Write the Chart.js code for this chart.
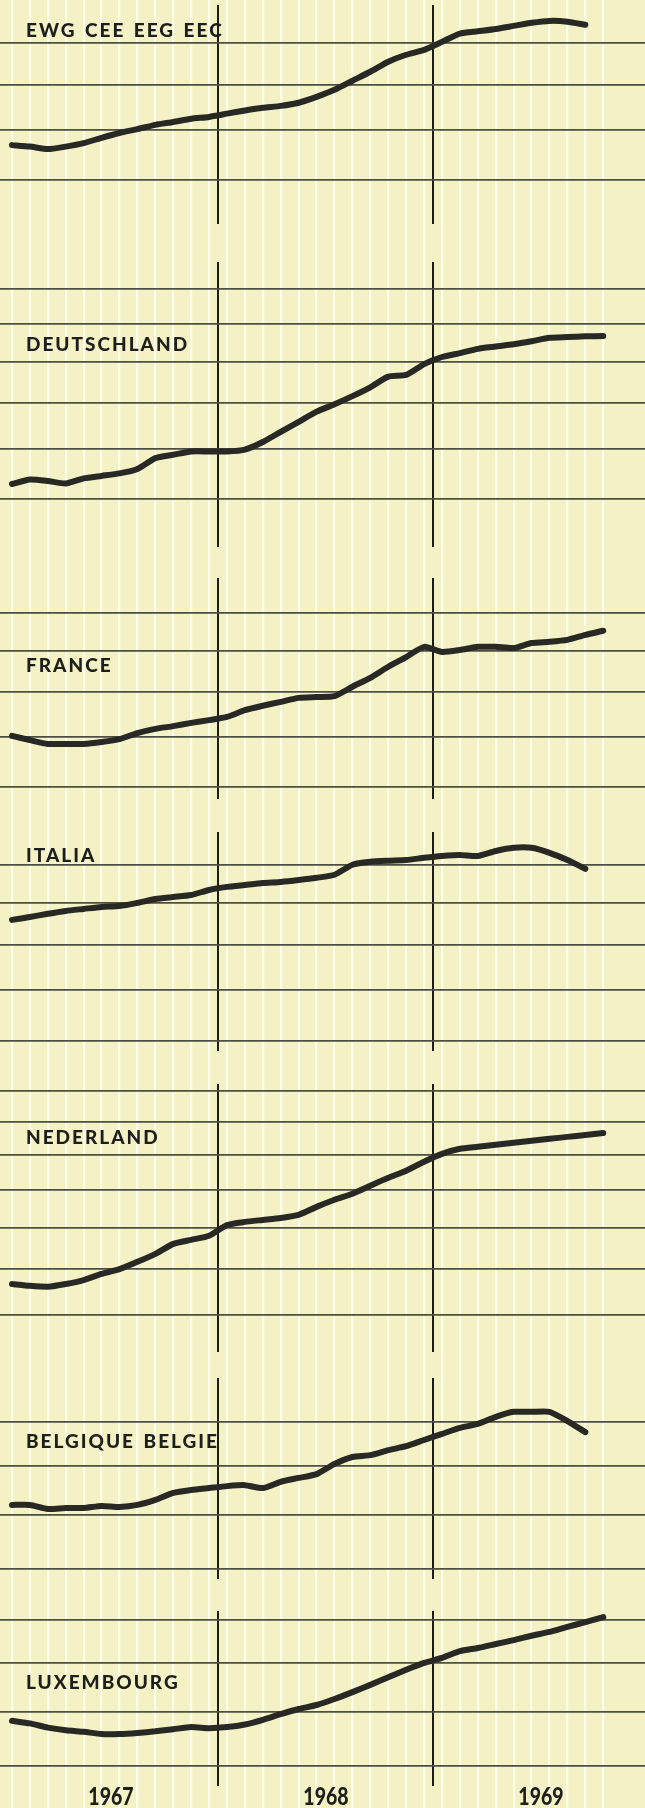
<!DOCTYPE html>
<html><head><meta charset="utf-8">
<script src="https://cdn.jsdelivr.net/npm/chart.js@4.4.1/dist/chart.umd.min.js"></script>
<style>
html,body{margin:0;padding:0;}
body{width:645px;height:1808px;background:#f4f2c5;position:relative;overflow:hidden;}
canvas{position:absolute;left:0;}
.title{position:absolute;left:26px;font-family:Lato,"Open Sans",sans-serif;font-weight:900;font-size:19px;letter-spacing:2px;word-spacing:2px;color:#1e1e1b;line-height:19px;white-space:nowrap;}
.year{position:absolute;font-family:Lato,sans-serif;font-weight:900;font-size:25px;line-height:25px;color:#1e1e1b;white-space:nowrap;transform:translateX(-50%) scaleX(0.78);}
</style></head><body>
<script>
// ---- data ----
const months = ["1967-01","1967-02","1967-03","1967-04","1967-05","1967-06","1967-07","1967-08","1967-09","1967-10","1967-11","1967-12",
"1968-01","1968-02","1968-03","1968-04","1968-05","1968-06","1968-07","1968-08","1968-09","1968-10","1968-11","1968-12",
"1969-01","1969-02","1969-03","1969-04","1969-05","1969-06","1969-07","1969-08","1969-09","1969-10"];
const yearLabels = ["1967","1968","1969"];
const panelNames = ["EWG CEE EEG EEC","DEUTSCHLAND","FRANCE","ITALIA","NEDERLAND","BELGIQUE BELGIE","LUXEMBOURG"];

const ewg = [96.9,96.6,96.1,96.6,97.3,98.4,99.4,100.2,101.1,101.7,102.4,102.8,103.5,104.2,104.8,105.2,105.9,107.2,108.8,110.9,113.0,115.4,117.1,118.3,120.3,122.4,123.0,123.6,124.4,125.2,125.7,125.5,124.7];
const deutschland = [92.8,93.7,93.4,92.9,93.9,94.4,94.9,95.8,98.0,98.7,99.4,99.4,99.4,99.8,101.4,103.6,105.8,108.1,109.8,111.7,113.8,116.4,116.8,119.5,121.3,122.3,123.4,124.0,124.6,125.4,126.3,126.5,126.7,126.8];
const france = [100.2,99.3,98.5,98.5,98.5,98.9,99.5,100.8,101.7,102.3,103.0,103.6,104.3,105.8,106.8,107.7,108.6,108.8,109.0,111.2,113.3,116.0,118.4,121.0,119.7,120.2,121.0,121.0,120.7,122.0,122.3,122.8,124.1,125.2];
const italia = [115.9,116.6,117.4,118.1,118.6,119.1,119.3,120.1,121.1,121.6,122.1,123.4,124.2,124.7,125.2,125.5,126.0,126.6,127.4,130.1,130.9,131.2,131.4,132.0,132.5,132.8,132.5,133.9,134.8,134.8,133.4,131.4,129.0];
const nederland = [106.6,106.2,106.0,106.6,107.5,108.9,110.0,111.7,113.6,116.0,117.0,118.0,120.7,121.5,122.0,122.5,123.3,125.4,127.3,128.9,131.1,133.3,135.3,137.9,140.2,141.7,142.3,142.9,143.5,144.1,144.7,145.3,145.9,146.5];
const belgique = [91.9,91.9,91.1,91.3,91.3,91.7,91.5,91.9,92.9,94.3,94.9,95.3,95.7,95.9,95.3,96.6,97.4,98.2,100.4,101.9,102.3,103.4,104.3,105.7,107.1,108.5,109.4,111.1,112.3,112.3,112.3,110.1,107.5];
const luxembourg = [88.2,87.7,86.9,86.4,86.1,85.7,85.7,85.9,86.2,86.6,87.0,86.8,87.0,87.5,88.4,89.5,90.5,91.3,92.5,93.9,95.4,97.0,98.6,100.1,101.2,102.7,103.4,104.3,105.2,106.2,107.1,108.3,109.4,110.6];

const gridEWG = [90,100,110,120];
const gridDE = [90,100,110,120,130,140];
const gridFR = [90,100,110,120,130];
const gridIT = [90,100,110,120,130];
const gridNL = [100,110,120,130,140,150,160];
const gridBE = [80,90,100,110];
const gridLU = [80,90,100,110];

// axis bounds (log scale)
const yMin = [82.14, 81.26, 87.66, 88.04, 92.40, 78.35, 76.5];
const yMax = [129.96, 148.2, 140.0, 139.35, 162.4, 120.79, 112.1];
const yearBreaks = [12, 24];

// ---- layout ----
const W = 645, Hpage = 1808;
const xMin = -0.17, xMax = 35.83;
const panelTop = [5, 262, 578, 832, 1084, 1378, 1611];
const panelHeight = [219, 285, 221, 219, 268, 201, 175];
const titleBaseline = [37, 351, 672, 862, 1144, 1448, 1689];

const seriesList = [ewg, deutschland, france, italia, nederland, belgique, luxembourg];
const gridList = [gridEWG, gridDE, gridFR, gridIT, gridNL, gridBE, gridLU];

function mkCanvas(top, h) {
  const c = document.createElement('canvas');
  c.width = W; c.height = h;
  c.style.top = top + 'px'; c.style.width = W + 'px'; c.style.height = h + 'px';
  document.body.appendChild(c);
  return c;
}
function xAxis(tickVals, color, width) {
  return { type: 'linear', min: xMin, max: xMax, display: true,
    afterBuildTicks: s => { s.ticks = tickVals.map(v => ({ value: v })); },
    ticks: { display: false }, border: { display: false },
    grid: { color: color, lineWidth: width, drawTicks: false } };
}
const baseOpts = { responsive: false, animation: false, events: [], devicePixelRatio: 1,
  layout: { padding: 0 }, plugins: { legend: { display: false }, tooltip: { enabled: false } } };

// background ruling: pale lines at every month
const bg = new Chart(mkCanvas(0, Hpage), {
  type: 'line', data: { datasets: [] },
  options: Object.assign({}, baseOpts, {
    scales: { x: xAxis(months.map((m, i) => i + 0.5), 'rgba(255,255,245,0.8)', 2.2),
              y: { display: false, min: 0, max: 1 } } })
});

// titles
panelNames.forEach((n, i) => {
  const d = document.createElement('div');
  d.className = 'title'; d.textContent = n;
  d.style.top = (titleBaseline[i] - 17) + 'px';
  document.body.appendChild(d);
});

// panels
seriesList.forEach((s, p) => {
  const gv = gridList[p];
  new Chart(mkCanvas(panelTop[p], panelHeight[p]), {
    type: 'line',
    data: { datasets: [{ data: s.map((v, i) => ({ x: i + 0.5, y: v })),
      borderColor: '#282825', borderWidth: 6, pointRadius: 0, tension: 0.2,
      borderCapStyle: 'round', borderJoinStyle: 'round', fill: false }] },
    options: Object.assign({}, baseOpts, {
      scales: {
        x: xAxis(yearBreaks, '#1b1b19', 2),
        y: { type: 'logarithmic', min: yMin[p], max: yMax[p], display: true,
             afterBuildTicks: sc => { sc.ticks = gv.map(v => ({ value: v })); },
             ticks: { display: false }, border: { display: false },
             grid: { color: '#4c4f41', lineWidth: 1.8, drawTicks: false } }
      } })
  });
});

// year labels
yearLabels.forEach((y, j) => {
  const d = document.createElement('div');
  d.className = 'year'; d.textContent = y;
  d.style.left = bg.scales.x.getPixelForValue(6 + 12 * j) + 'px';
  d.style.top = '1783px';
  document.body.appendChild(d);
});
</script>
</body></html>
